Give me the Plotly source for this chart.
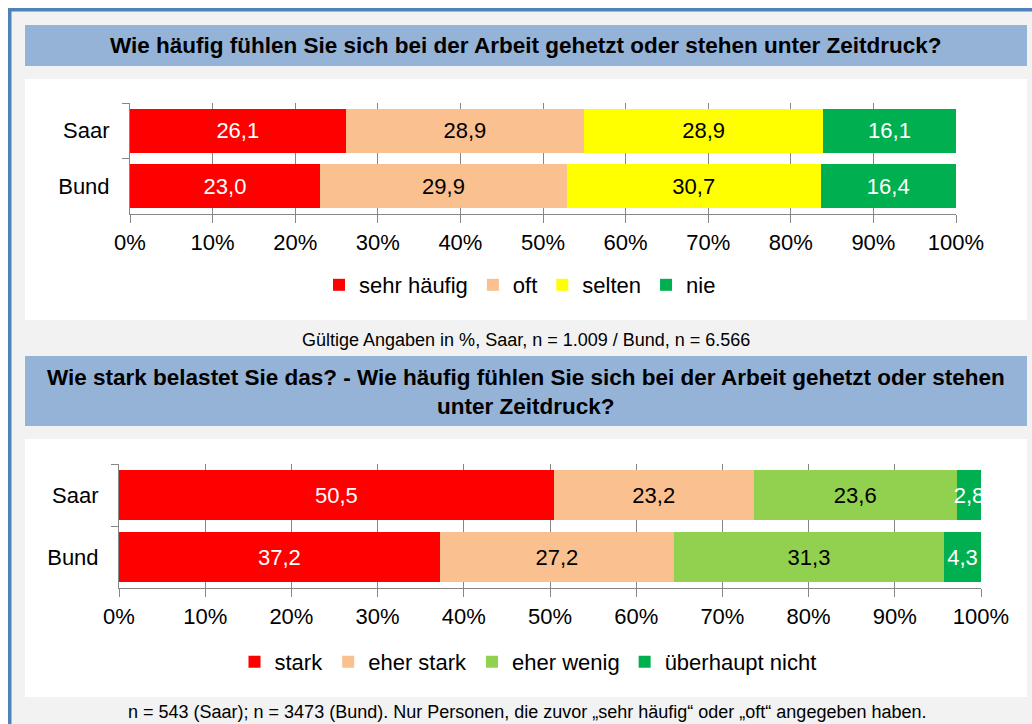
import plotly.graph_objects as go

# ---------------- data ----------------
regions = ["Saar", "Bund"]

top_series = ["sehr häufig", "oft", "selten", "nie"]
top_values = {
    "sehr häufig": [26.1, 23.0],
    "oft": [28.9, 29.9],
    "selten": [28.9, 30.7],
    "nie": [16.1, 16.4],
}
top_colors = ["#FF0000", "#FAC090", "#FFFF00", "#00B050"]
top_textcolors = ["white", "black", "black", "white"]

bot_series = ["stark", "eher stark", "eher wenig", "überhaupt nicht"]
bot_values = {
    "stark": [50.5, 37.2],
    "eher stark": [23.2, 27.2],
    "eher wenig": [23.6, 31.3],
    "überhaupt nicht": [2.8, 4.3],
}
bot_colors = ["#FF0000", "#FAC090", "#92D050", "#00B050"]
bot_textcolors = ["white", "black", "black", "white"]

tick_vals = list(range(0, 101, 10))
tick_text = [f"{v}%" for v in tick_vals]

title1 = "Wie häufig fühlen Sie sich bei der Arbeit gehetzt oder stehen unter Zeitdruck?"
title2 = ("Wie stark belastet Sie das? - Wie häufig fühlen Sie sich bei der Arbeit gehetzt oder stehen"
          "<br>unter Zeitdruck?")
note1 = "Gültige Angaben in %, Saar, n = 1.009 / Bund, n = 6.566"
note2 = ("n = 543 (Saar); n = 3473 (Bund). Nur Personen, die zuvor \u201esehr häufig\u201c "
         "oder \u201eoft\u201c angegeben haben.")

# ---------------- geometry helpers (page pixels -> paper) ----------------
W, H = 1032, 724
FONT = "Liberation Sans, Arial, sans-serif"
FS = 22


def px(x):
    return x / W


def py(y):
    return 1 - y / H


def fmt(v):
    return f"{v:.1f}".replace(".", ",")


fig = go.Figure()

for name, col, tcol in zip(top_series, top_colors, top_textcolors):
    vals = top_values[name]
    fig.add_trace(go.Bar(
        y=regions, x=vals, name=name, orientation="h",
        marker=dict(color=col, line=dict(width=0)),
        text=[fmt(v) for v in vals], textposition="inside",
        insidetextanchor="middle", textangle=0,
        textfont=dict(color=tcol, size=FS, family=FONT),
        xaxis="x", yaxis="y", legend="legend",
    ))

for name, col, tcol in zip(bot_series, bot_colors, bot_textcolors):
    vals = bot_values[name]
    fig.add_trace(go.Bar(
        y=regions, x=vals, name=name, orientation="h",
        marker=dict(color=col, line=dict(width=0)),
        text=[fmt(v) for v in vals], textposition="inside",
        insidetextanchor="middle", textangle=0,
        textfont=dict(color=tcol, size=FS, family=FONT),
        xaxis="x2", yaxis="y2", legend="legend2",
    ))

GRID = "#868686"
xcommon = dict(range=[0, 100], tickvals=tick_vals, ticktext=tick_text,
               showgrid=True, gridcolor=GRID, gridwidth=1,
               showline=True, linecolor=GRID, linewidth=1,
               ticks="outside", ticklen=8, tickcolor=GRID,
               zeroline=False, fixedrange=True, automargin=False,
               ticklabelstandoff=1,
               tickfont=dict(size=FS, color="black", family=FONT))
ycommon = dict(autorange="reversed", showgrid=False,
               showline=True, linecolor=GRID, linewidth=1,
               ticks="outside", ticklen=7, tickcolor=GRID,
               tickson="boundaries", zeroline=False, automargin=False,
               fixedrange=True, ticklabelstandoff=15,
               tickfont=dict(size=FS, color="black", family=FONT))

shapes = [
    # gray frame fill
    dict(type="rect", xref="paper", yref="paper", x0=px(11), x1=px(1032), y0=py(724), y1=py(11),
         fillcolor="#F2F2F2", line=dict(width=0), layer="below"),
    # blue border top/left
    dict(type="rect", xref="paper", yref="paper", x0=px(8), x1=px(1032), y0=py(11.5), y1=py(8),
         fillcolor="#4F81BD", line=dict(width=0), layer="below"),
    dict(type="rect", xref="paper", yref="paper", x0=px(8), x1=px(11.5), y0=py(724), y1=py(8),
         fillcolor="#4F81BD", line=dict(width=0), layer="below"),
    # title boxes
    dict(type="rect", xref="paper", yref="paper", x0=px(25), x1=px(1027), y0=py(66), y1=py(25),
         fillcolor="#95B3D7", line=dict(width=0), layer="below"),
    dict(type="rect", xref="paper", yref="paper", x0=px(25), x1=px(1027), y0=py(426), y1=py(356),
         fillcolor="#95B3D7", line=dict(width=0), layer="below"),
    # white panels
    dict(type="rect", xref="paper", yref="paper", x0=px(25), x1=px(1027), y0=py(320), y1=py(79),
         fillcolor="white", line=dict(width=0), layer="below"),
    dict(type="rect", xref="paper", yref="paper", x0=px(25), x1=px(1027), y0=py(697), y1=py(439),
         fillcolor="white", line=dict(width=0), layer="below"),
]

annotations = [
    dict(text=f"<b>{title1}</b>", x=px(526), y=py(45), xref="paper", yref="paper",
         showarrow=False, xanchor="center", yanchor="middle",
         font=dict(size=22.5, color="black", family=FONT)),
    dict(text=f"<b>{title2}</b>", x=px(526), y=py(391.5), xref="paper", yref="paper",
         showarrow=False, xanchor="center", yanchor="middle", align="center",
         font=dict(size=22.5, color="black", family=FONT)),
    dict(text=note1, x=px(525.5), y=py(340), xref="paper", yref="paper",
         showarrow=False, xanchor="center", yanchor="middle",
         font=dict(size=18, color="black", family=FONT)),
    dict(text=note2, x=px(527), y=py(712), xref="paper", yref="paper",
         showarrow=False, xanchor="center", yanchor="middle",
         font=dict(size=18, color="black", family=FONT)),
]

legend_common = dict(orientation="h", xanchor="center", yanchor="middle",
                     bgcolor="rgba(0,0,0,0)", traceorder="normal",
                     font=dict(size=FS, color="black", family=FONT),
                     itemclick=False, itemdoubleclick=False)

fig.update_layout(
    width=W, height=H, autosize=False,
    margin=dict(l=0, r=0, t=0, b=0, pad=0, autoexpand=False),
    paper_bgcolor="white", plot_bgcolor="rgba(0,0,0,0)",
    font=dict(family=FONT, color="black"),
    barmode="stack", barnorm="percent", bargap=0.2,
    showlegend=True,
    xaxis=dict(domain=[px(130), px(956)], anchor="y", **xcommon),
    yaxis=dict(domain=[py(214), py(103)], anchor="x", **ycommon),
    xaxis2=dict(domain=[px(119), px(981)], anchor="y2", **xcommon),
    yaxis2=dict(domain=[py(588), py(464)], anchor="x2", **ycommon),
    legend=dict(x=px(520), y=py(285), **legend_common),
    legend2=dict(x=px(528), y=py(662), **legend_common),
    shapes=shapes,
    annotations=annotations,
    uniformtext=dict(minsize=FS, mode="show"),
)

fig.write_html(
    "out.html",
    config={"displayModeBar": False},
    post_script="document.body.style.margin='0';document.body.style.overflow='hidden';",
)
